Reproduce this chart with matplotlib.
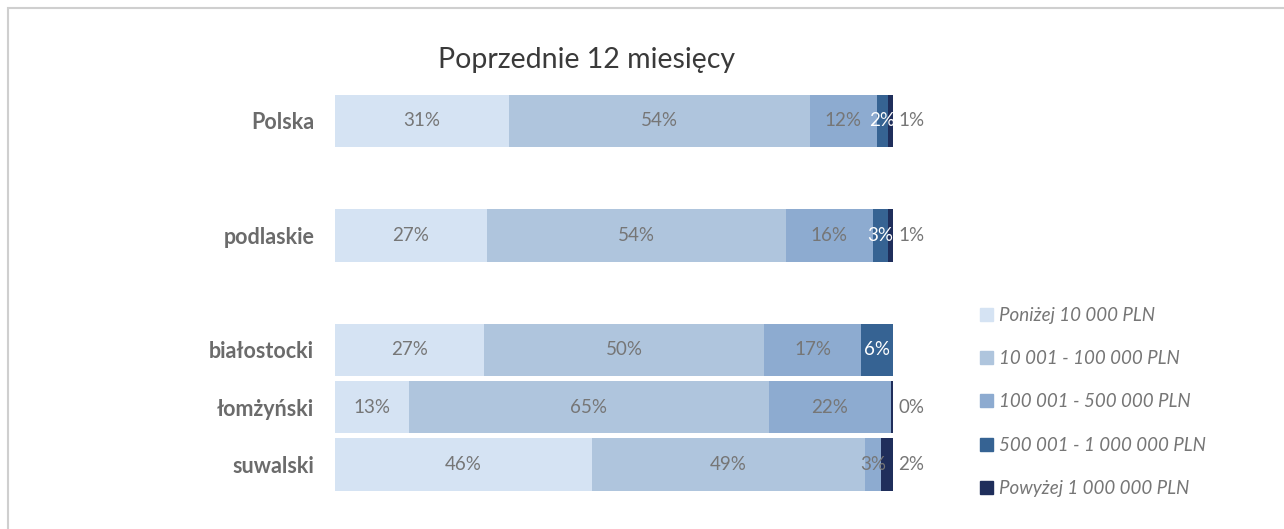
import matplotlib
matplotlib.use('Agg')
import matplotlib.pyplot as plt
from matplotlib.patches import Rectangle, Patch

plt.rcParams['font.family'] = ['Lato', 'DejaVu Sans']

#%% data
regions = ['Polska', 'podlaskie', 'białostocki', 'łomżyński', 'suwalski']
slots = [0, 2, 4, 5, 6]
series = ['Poniżej 10 000 PLN', '10 001 - 100 000 PLN', '100 001 - 500 000 PLN',
          '500 001 - 1 000 000 PLN', 'Powyżej 1 000 000 PLN']
below_10k = [31.2, 27.2, 26.7, 13.2, 46.1]
k10_100 = [53.9, 53.6, 50.2, 64.6, 48.9]
k100_500 = [12.0, 15.6, 17.4, 21.8, 2.8]
k500_1m = [2.0, 2.7, 5.7, 0.0, 0.0]
above_1m = [0.9, 0.9, 0.0, 0.4, 2.2]

colors = ['#D5E3F3', '#AFC5DD', '#8DABD0', '#366393', '#1F2E5B']
label_colors = ['#767676', '#767676', '#767676', 'white', None]
grey = '#767676'

#%% figure
fig = plt.figure(figsize=(12.84, 5.29), dpi=100)
ax = fig.add_axes([335/1284, 1 - 500/529, 558/1284, 410/529])

data = [below_10k, k10_100, k100_500, k500_1m, above_1m]
left = [0.0] * len(regions)
for s, vals in enumerate(data):
    ax.barh(slots, vals, left=left, height=0.91, color=colors[s], label=series[s])
    for i, v in enumerate(vals):
        if v <= 0:
            continue
        txt = f'{round(v):.0f}%'
        if s == 4:
            ax.text(101.0, slots[i], txt, ha='left', va='center', fontsize=13.5, color=grey)
        else:
            ax.text(left[i] + v / 2, slots[i], txt, ha='center', va='center',
                    fontsize=13.5, color=label_colors[s])
    left = [l + v for l, v in zip(left, vals)]

ax.set_xlim(0, 100)
ax.set_ylim(6.62, -0.54)
ax.set_yticks(slots)
ax.set_yticklabels(regions, fontsize=15.5, fontweight='bold', color='#6b6b6b')
ax.tick_params(axis='y', length=0, pad=15)
ax.set_xticks([])
for sp in ax.spines.values():
    sp.set_visible(False)

fig.text(0.457, 0.887, 'Poprzednie 12 miesięcy', ha='center', va='center',
         fontsize=20.5, color='#3a3a3a')

handles = [Patch(color=c) for c in colors]
leg = fig.legend(handles, series, loc='upper left', bbox_to_anchor=(963/1284, 1 - 290/529),
                 frameon=False, prop={'style': 'italic', 'size': 13.5},
                 handlelength=0.7, handleheight=0.7, handletextpad=0.3, labelspacing=1.4)
for t in leg.get_texts():
    t.set_color(grey)

# outer frame
fig.add_artist(Rectangle((8/1284, -0.1), 1.2, 1.1 - 8/529, transform=fig.transFigure,
                         fill=False, edgecolor='#cfcfcf', linewidth=1.5))

fig.savefig('out.png', dpi=100)
